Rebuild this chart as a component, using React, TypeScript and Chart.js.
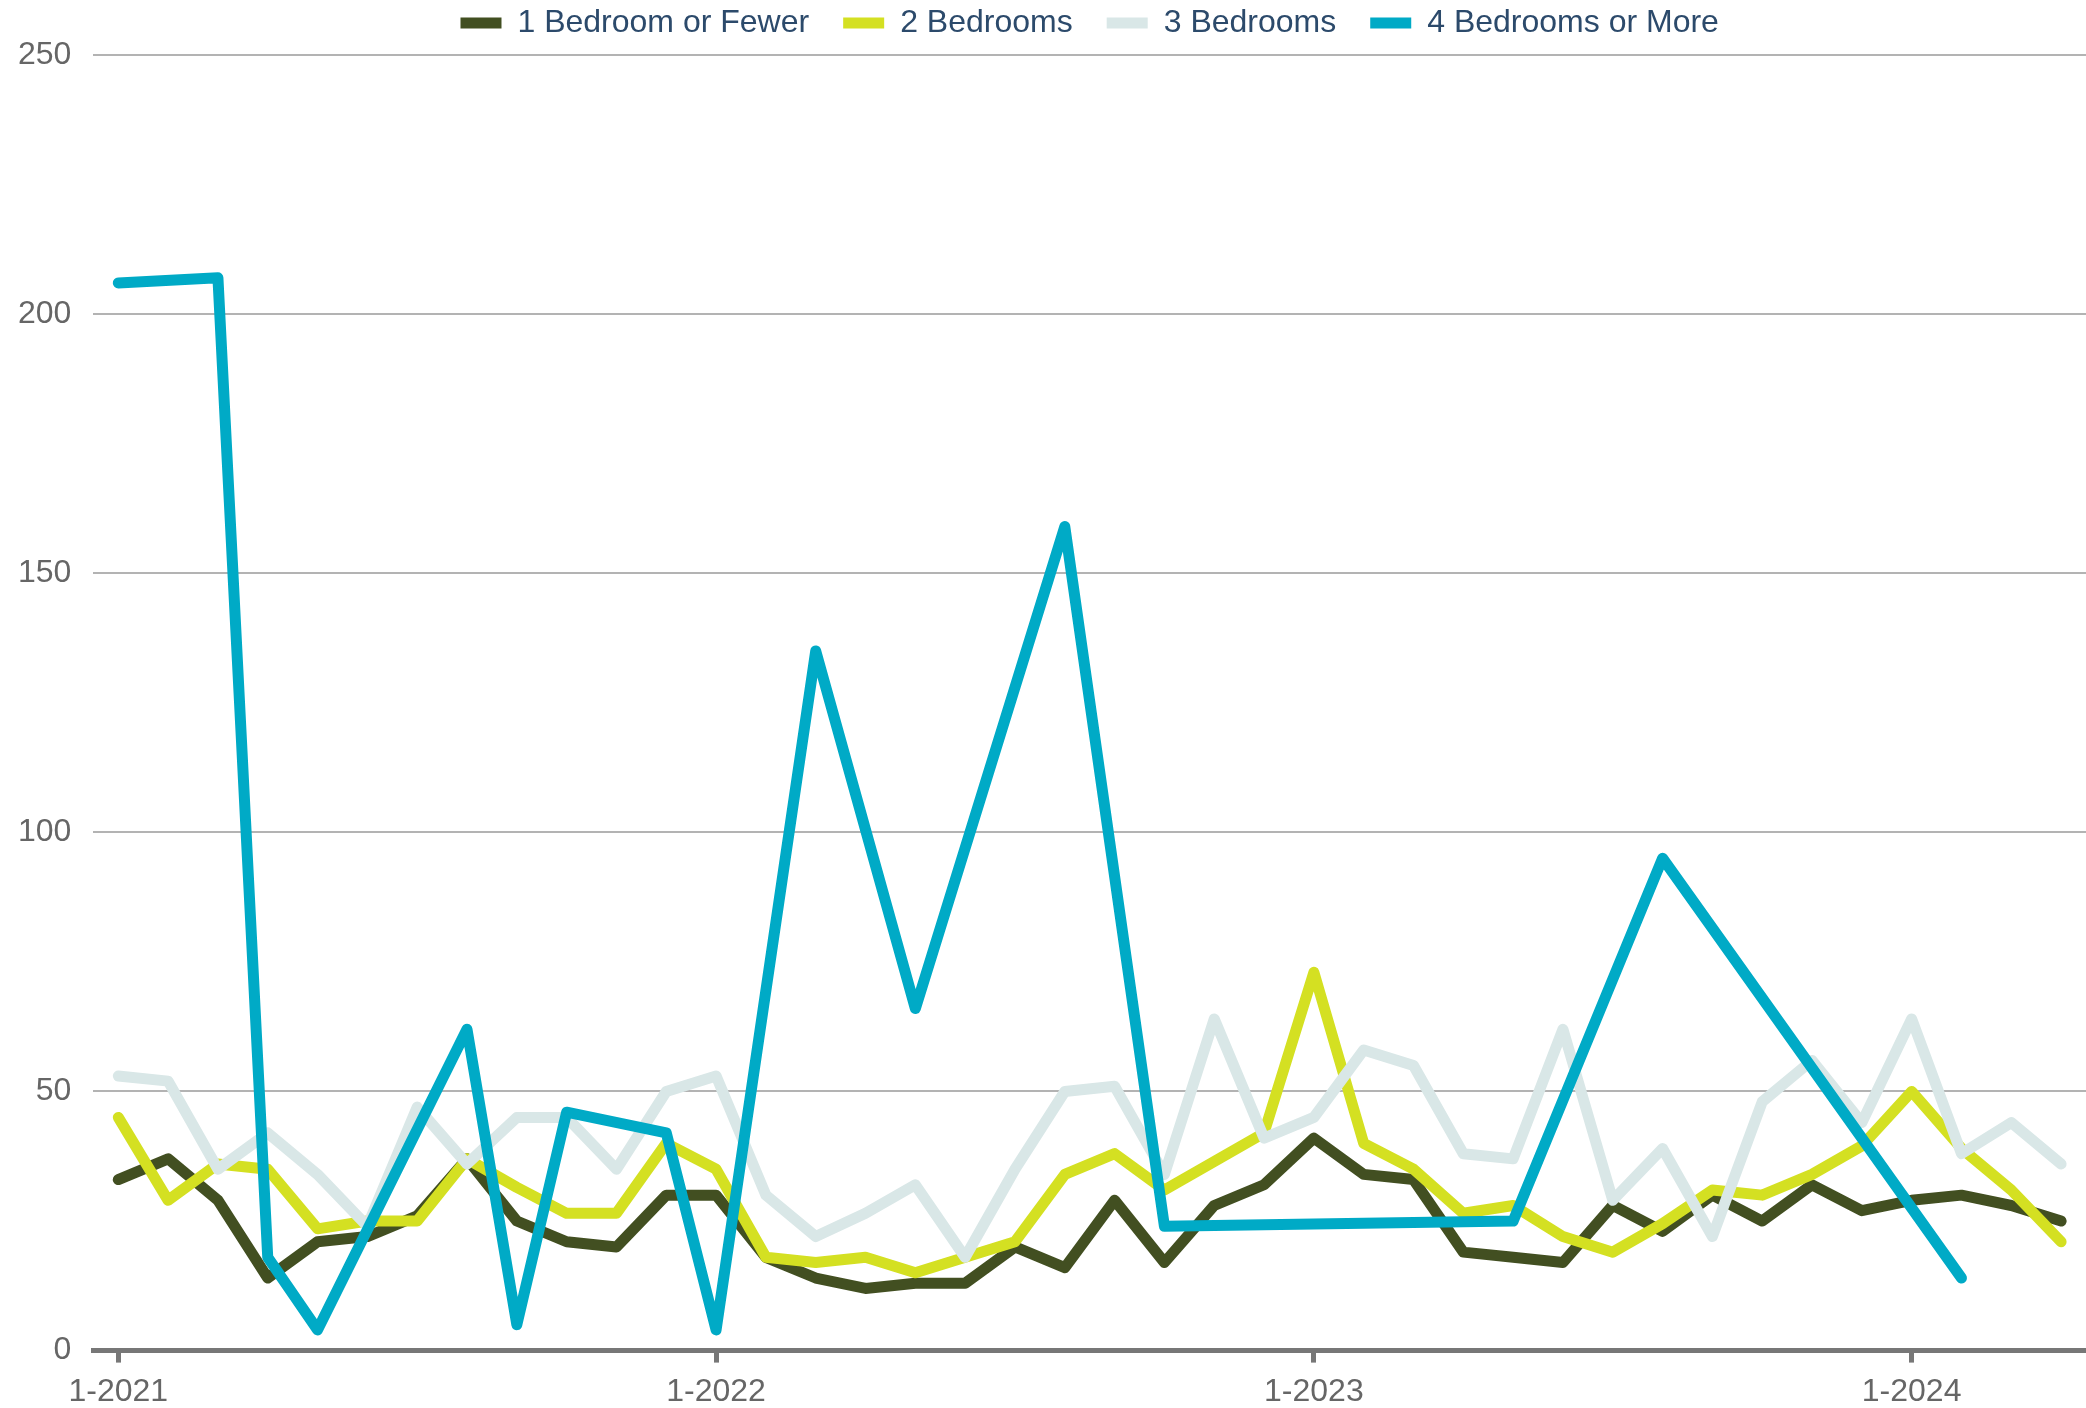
import React, { useEffect, useRef } from 'react';
import { Chart, registerables } from 'chart.js';

Chart.register(...registerables);

const monthLabels = [
  '1-2021', '2-2021', '3-2021', '4-2021', '5-2021', '6-2021', '7-2021', '8-2021', '9-2021', '10-2021', '11-2021', '12-2021',
  '1-2022', '2-2022', '3-2022', '4-2022', '5-2022', '6-2022', '7-2022', '8-2022', '9-2022', '10-2022', '11-2022', '12-2022',
  '1-2023', '2-2023', '3-2023', '4-2023', '5-2023', '6-2023', '7-2023', '8-2023', '9-2023', '10-2023', '11-2023', '12-2023',
  '1-2024', '2-2024', '3-2024', '4-2024',
];

const seriesNames = ['1 Bedroom or Fewer', '2 Bedrooms', '3 Bedrooms', '4 Bedrooms or More'];

const oneBedOrFewer = [
  33, 37, 29, 14, 21, 22, 26, 37, 25, 21, 20, 30,
  30, 18, 14, 12, 13, 13, 20, 16, 29, 17, 28, 32,
  41, 34, 33, 19, 18, 17, 28, 23, 30, 25, 32, 27,
  29, 30, 28, 25,
];

const twoBedrooms = [
  45, 29, 36, 35, 23.5, 25, 25, 37, 31.5, 26.5, 26.5, 40,
  35, 18, 17, 18, 15, 18, 21, 34, 38, 31, 36.5, 42,
  73, 40, 35, 26.5, 28, 22, 19, 24.5, 31, 30, 34, 39.5,
  50, 39, 31, 21,
];

const threeBedrooms = [
  53, 52, 35, 42, 34, 24, 47, 36, 45, 45, 35, 50,
  53, 30, 22, 26.5, 32, 18, 35, 50, 51, 34, 64, 41,
  45, 58, 55, 38, 37, 62, 29, 39, 22, 48, 56, 44,
  64, 38, 44, 36,
];

const fourBedroomsOrMore = [
  206, null, 207, 18, 4, null, null, 62, 5, 46, null, 42,
  4, null, 135, null, 66, null, null, 159, null, 24, null, null,
  null, null, null, null, 25, null, null, 95, null, null, null, null,
  null, 14, null, null,
];

const seriesColors = ['#424f21', '#d4e022', '#d9e7e7', '#00aac6'];
const yTicks = [0, 50, 100, 150, 200, 250];

const FONT = '"Liberation Sans", Arial, Helvetica, sans-serif';

export default function App() {
  const canvasRef = useRef<HTMLCanvasElement | null>(null);

  useEffect(() => {
    const canvas = canvasRef.current;
    if (!canvas) return;
    Chart.defaults.font.family = FONT;

    const legendSpacing = {
      id: 'legendSpacing',
      beforeInit(chart: any) {
        const legend = chart.legend;
        if (!legend) return;
        const origFit = legend.fit;
        legend.fit = function () {
          origFit.call(this);
          this.height += 6;
        };
      },
    };

    const allSeries = [oneBedOrFewer, twoBedrooms, threeBedrooms, fourBedroomsOrMore];
    const drawOrder = [3, 2, 1, 0];
    const isJan = (i: number) => !!monthLabels[i] && monthLabels[i].startsWith('1-');

    const chart = new Chart(canvas, {
      type: 'line',
      data: {
        labels: monthLabels,
        datasets: allSeries.map((data, i) => ({
          label: seriesNames[i],
          data,
          borderColor: seriesColors[i],
          backgroundColor: seriesColors[i],
          borderWidth: 11,
          borderCapStyle: 'round',
          borderJoinStyle: 'round',
          pointRadius: 0,
          pointHoverRadius: 0,
          tension: 0,
          fill: false,
          spanGaps: true,
          order: drawOrder[i],
        })),
      },
      options: {
        responsive: false,
        animation: false,
        devicePixelRatio: 1,
        layout: { padding: { top: -27, left: -4, right: 0, bottom: -13 } },
        plugins: {
          tooltip: { enabled: false },
          legend: {
            display: true,
            position: 'top',
            fullSize: false,
            labels: {
              boxWidth: 41,
              boxHeight: 11,
              padding: 34,
              color: '#2c4a6b',
              font: { size: 32, family: FONT },
              sort: (a: any, b: any) => a.datasetIndex - b.datasetIndex,
              generateLabels: (ch: any) =>
                (Chart.defaults.plugins.legend.labels.generateLabels as any)(ch).map((l: any) => ({
                  ...l,
                  lineWidth: 0,
                  fillStyle: seriesColors[l.datasetIndex],
                  strokeStyle: seriesColors[l.datasetIndex],
                })),
            },
          },
        },
        scales: {
          x: {
            type: 'category',
            offset: true,
            grid: {
              display: true,
              drawOnChartArea: false,
              drawTicks: true,
              offset: false,
              tickLength: 12,
              tickWidth: (ctx: any) => (isJan(ctx.index) ? 5 : 0),
              tickColor: (ctx: any) => (isJan(ctx.index) ? '#777777' : 'rgba(0,0,0,0)'),
            },
            border: { display: true, color: '#777777', width: 5 },
            ticks: {
              autoSkip: false,
              maxRotation: 0,
              minRotation: 0,
              padding: 10,
              color: '#666666',
              font: { size: 32, family: FONT },
              callback: (_v: any, index: number) => (isJan(index) ? monthLabels[index] : ''),
            },
          },
          y: {
            min: yTicks[0],
            max: yTicks[yTicks.length - 1],
            grid: { color: '#b3b3b3', lineWidth: 2, drawTicks: false },
            border: { display: false },
            afterBuildTicks: (axis: any) => {
              axis.ticks = yTicks.map((v) => ({ value: v }));
            },
            ticks: {
              padding: 22,
              color: '#666666',
              font: { size: 32, family: FONT },
            },
          },
        },
      },
      plugins: [legendSpacing],
    } as any);

    return () => chart.destroy();
  }, []);

  return (
    <div style={{ position: 'absolute', left: 0, top: 0, width: 2086, height: 1408, background: '#ffffff' }}>
      <canvas ref={canvasRef} width={2086} height={1408} style={{ display: 'block', width: 2086, height: 1408 }} />
    </div>
  );
}
